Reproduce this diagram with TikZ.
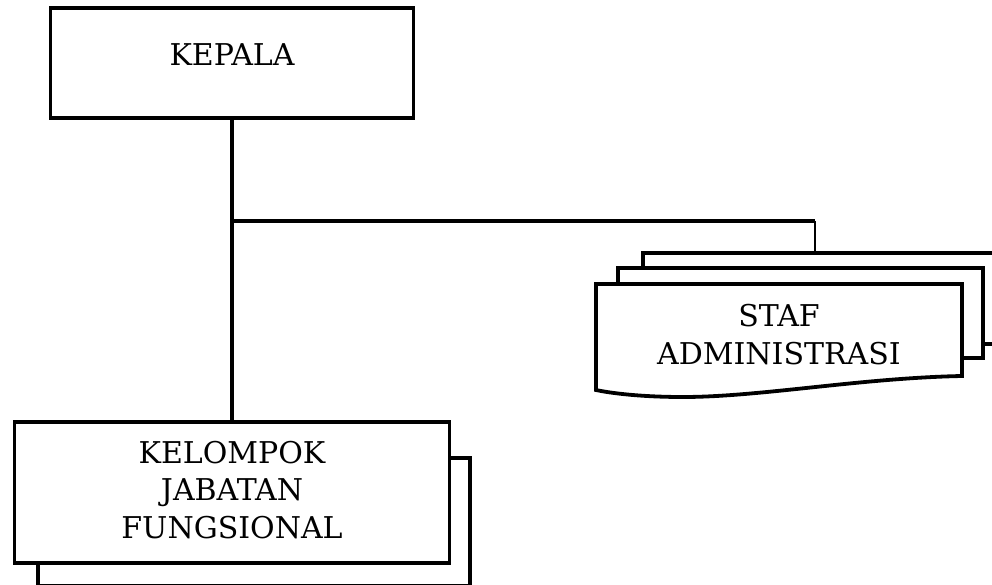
\documentclass[tikz,border=0pt]{standalone}
\usepackage{fontspec}
\setmainfont{DejaVu Serif}
\begin{document}
\begin{tikzpicture}[x=1pt,y=-1pt,
  box/.style={draw=black, fill=white, line width=3.8pt, rectangle, inner sep=0pt, outer sep=0pt},
  lbl/.style={font=\fontsize{30}{37.5}\selectfont, align=center, inner sep=0pt},
  conn/.style={draw=black, line width=3.4pt},
  thinconn/.style={draw=black, line width=2pt}]
\useasboundingbox (0,0) rectangle (992,585);
\clip (0,0) rectangle (992,585);
% KEPALA
\node[box, minimum width=363pt, minimum height=110pt] (kepala) at (232,63) {};
\node[lbl] (kepalaT) at (232,55) {KEPALA};
% junction
\coordinate (j) at (232,221);
\coordinate (drop) at (815,221);
% STAF boxes
\node[box, minimum width=370pt, minimum height=91pt] (stafback) at (828,298.5) {};
\node[box, minimum width=365pt, minimum height=90pt] (stafmid) at (800.5,313) {};
\coordinate (sf1) at (596,284);
\coordinate (sf2) at (962,284);
\coordinate (sf3) at (962,376);
\coordinate (sf4) at (683,397);
\coordinate (sf5) at (596,390);
\draw[line width=3.8pt, fill=white, line join=miter] (sf1) -- (sf2) -- (sf3)
  .. controls (860,378) and (760,397) .. (sf4)
  .. controls (640,397) and (610,393) .. (sf5) -- cycle;
\node[lbl] (stafT) at (779,334.5) {STAF\\ADMINISTRASI};
% KELOMPOK boxes
\node[box, minimum width=432pt, minimum height=128pt] (kelback) at (254,522) {};
\node[box, minimum width=435pt, minimum height=141pt] (kelompok) at (232,492.5) {};
\node[lbl] (kelT) at (232,490) {KELOMPOK\\JABATAN\\FUNGSIONAL};
% connectors
\draw[conn] (kepala.south) -- (kelompok.north);
\draw[conn] (j) -- (drop);
\draw[thinconn] (drop) -- (drop |- stafback.north);
\end{tikzpicture}
\end{document}
